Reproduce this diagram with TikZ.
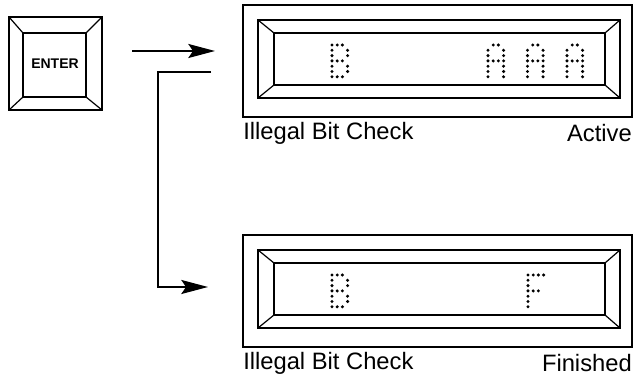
\documentclass[tikz,border=0pt]{standalone}
\usepackage{fontspec}
\setmainfont{Liberation Sans}
\usetikzlibrary{arrows.meta}
\tikzset{
  outerframe/.style={line width=1.5pt},
  bevel/.style={line width=0.9pt},
  conn/.style={line width=1.5pt,-{Stealth[length=20pt,width=10.5pt,inset=3.5pt]}},
  lbl/.style={inner sep=0pt,font=\fontsize{17.8}{20}\selectfont},
  keylbl/.style={inner sep=0pt,font=\bfseries\fontsize{10.5}{12}\selectfont},
  dot/.style={fill=black}
}
\newcommand\dotmatrix[3]{%
  \foreach \cc/\rr in {#3} {\fill[dot] ({#1+\cc*5.2},{#2+\rr*5.3}) circle[radius=1.25pt];}%
}
\newcommand\displaybox[2]{% #1 = name, #2 = y offset
  \coordinate (#1-o1) at (243,{#2+5});
  \coordinate (#1-o2) at (632,{#2+117});
  \coordinate (#1-b1) at (258,{#2+20});
  \coordinate (#1-b2) at (620,{#2+98});
  \coordinate (#1-i1) at (274,{#2+33});
  \coordinate (#1-i2) at (605,{#2+85});
  \draw[outerframe] (#1-o1) rectangle (#1-o2);
  \draw[bevel] (#1-b1) rectangle (#1-b2);
  \draw[bevel] (#1-i1) rectangle (#1-i2);
  \draw[bevel] (#1-b1) -- (#1-i1);
  \draw[bevel] (#1-b2) -- (#1-i2);
  \draw[bevel] (#1-b1 -| #1-b2) -- (#1-i1 -| #1-i2);
  \draw[bevel] (#1-b1 |- #1-b2) -- (#1-i1 |- #1-i2);
}
\begin{document}
\begin{tikzpicture}[x=0.75pt,y=-0.75pt]
\useasboundingbox (0,0) rectangle (633,377);
% ENTER key
\coordinate (k-o1) at (9,17);
\coordinate (k-o2) at (102,110);
\coordinate (k-i1) at (23,33);
\coordinate (k-i2) at (86,97);
\draw[outerframe] (k-o1) rectangle (k-o2);
\draw[bevel] (k-i1) rectangle (k-i2);
\draw[bevel] (k-o1) -- (k-i1);
\draw[bevel] (k-o2) -- (k-i2);
\draw[bevel] (k-o1 -| k-o2) -- (k-i1 -| k-i2);
\draw[bevel] (k-o1 |- k-o2) -- (k-i1 |- k-i2);
\node[keylbl] (key) at (55,64) {ENTER};
% displays
\displaybox{d1}{0}
\displaybox{d2}{230}
% dot-matrix characters
\dotmatrix{332}{45}{0/0,1/0,2/0,0/1,3/1,0/2,3/2,0/3,1/3,2/3,0/4,3/4,0/5,3/5,0/6,1/6,2/6}
\dotmatrix{488}{45}{1/0,2/0,0/1,3/1,0/2,3/2,0/3,1/3,2/3,3/3,0/4,3/4,0/5,3/5,0/6,3/6}
\dotmatrix{527.5}{45}{1/0,2/0,0/1,3/1,0/2,3/2,0/3,1/3,2/3,3/3,0/4,3/4,0/5,3/5,0/6,3/6}
\dotmatrix{567}{45}{1/0,2/0,0/1,3/1,0/2,3/2,0/3,1/3,2/3,3/3,0/4,3/4,0/5,3/5,0/6,3/6}
\dotmatrix{332}{275}{0/0,1/0,2/0,0/1,3/1,0/2,3/2,0/3,1/3,2/3,0/4,3/4,0/5,3/5,0/6,1/6,2/6}
\dotmatrix{528}{275}{0/0,1/0,2/0,3/0,0/1,0/2,0/3,1/3,2/3,0/4,0/5,0/6}
% labels
\node[lbl,anchor=west] (l1) at (243,133) {Illegal Bit Check};
\node[lbl,anchor=east] (l2) at (632,133) {Active};
\node[lbl,anchor=west] (l3) at (243,363) {Illegal Bit Check};
\node[lbl,anchor=east] (l4) at (632,363) {Finished};
% connectors
\coordinate (a1s) at (132,51);
\coordinate (a1e) at (215,51);
\coordinate (a2s) at (211,72);
\coordinate (a2c1) at (158,72);
\coordinate (a2c2) at (158,287);
\coordinate (a2e) at (208,287);
\draw[conn] (a1s) -- (a1e);
\draw[conn] (a2s) -- (a2c1) -- (a2c2) -- (a2e);
\end{tikzpicture}
\end{document}
